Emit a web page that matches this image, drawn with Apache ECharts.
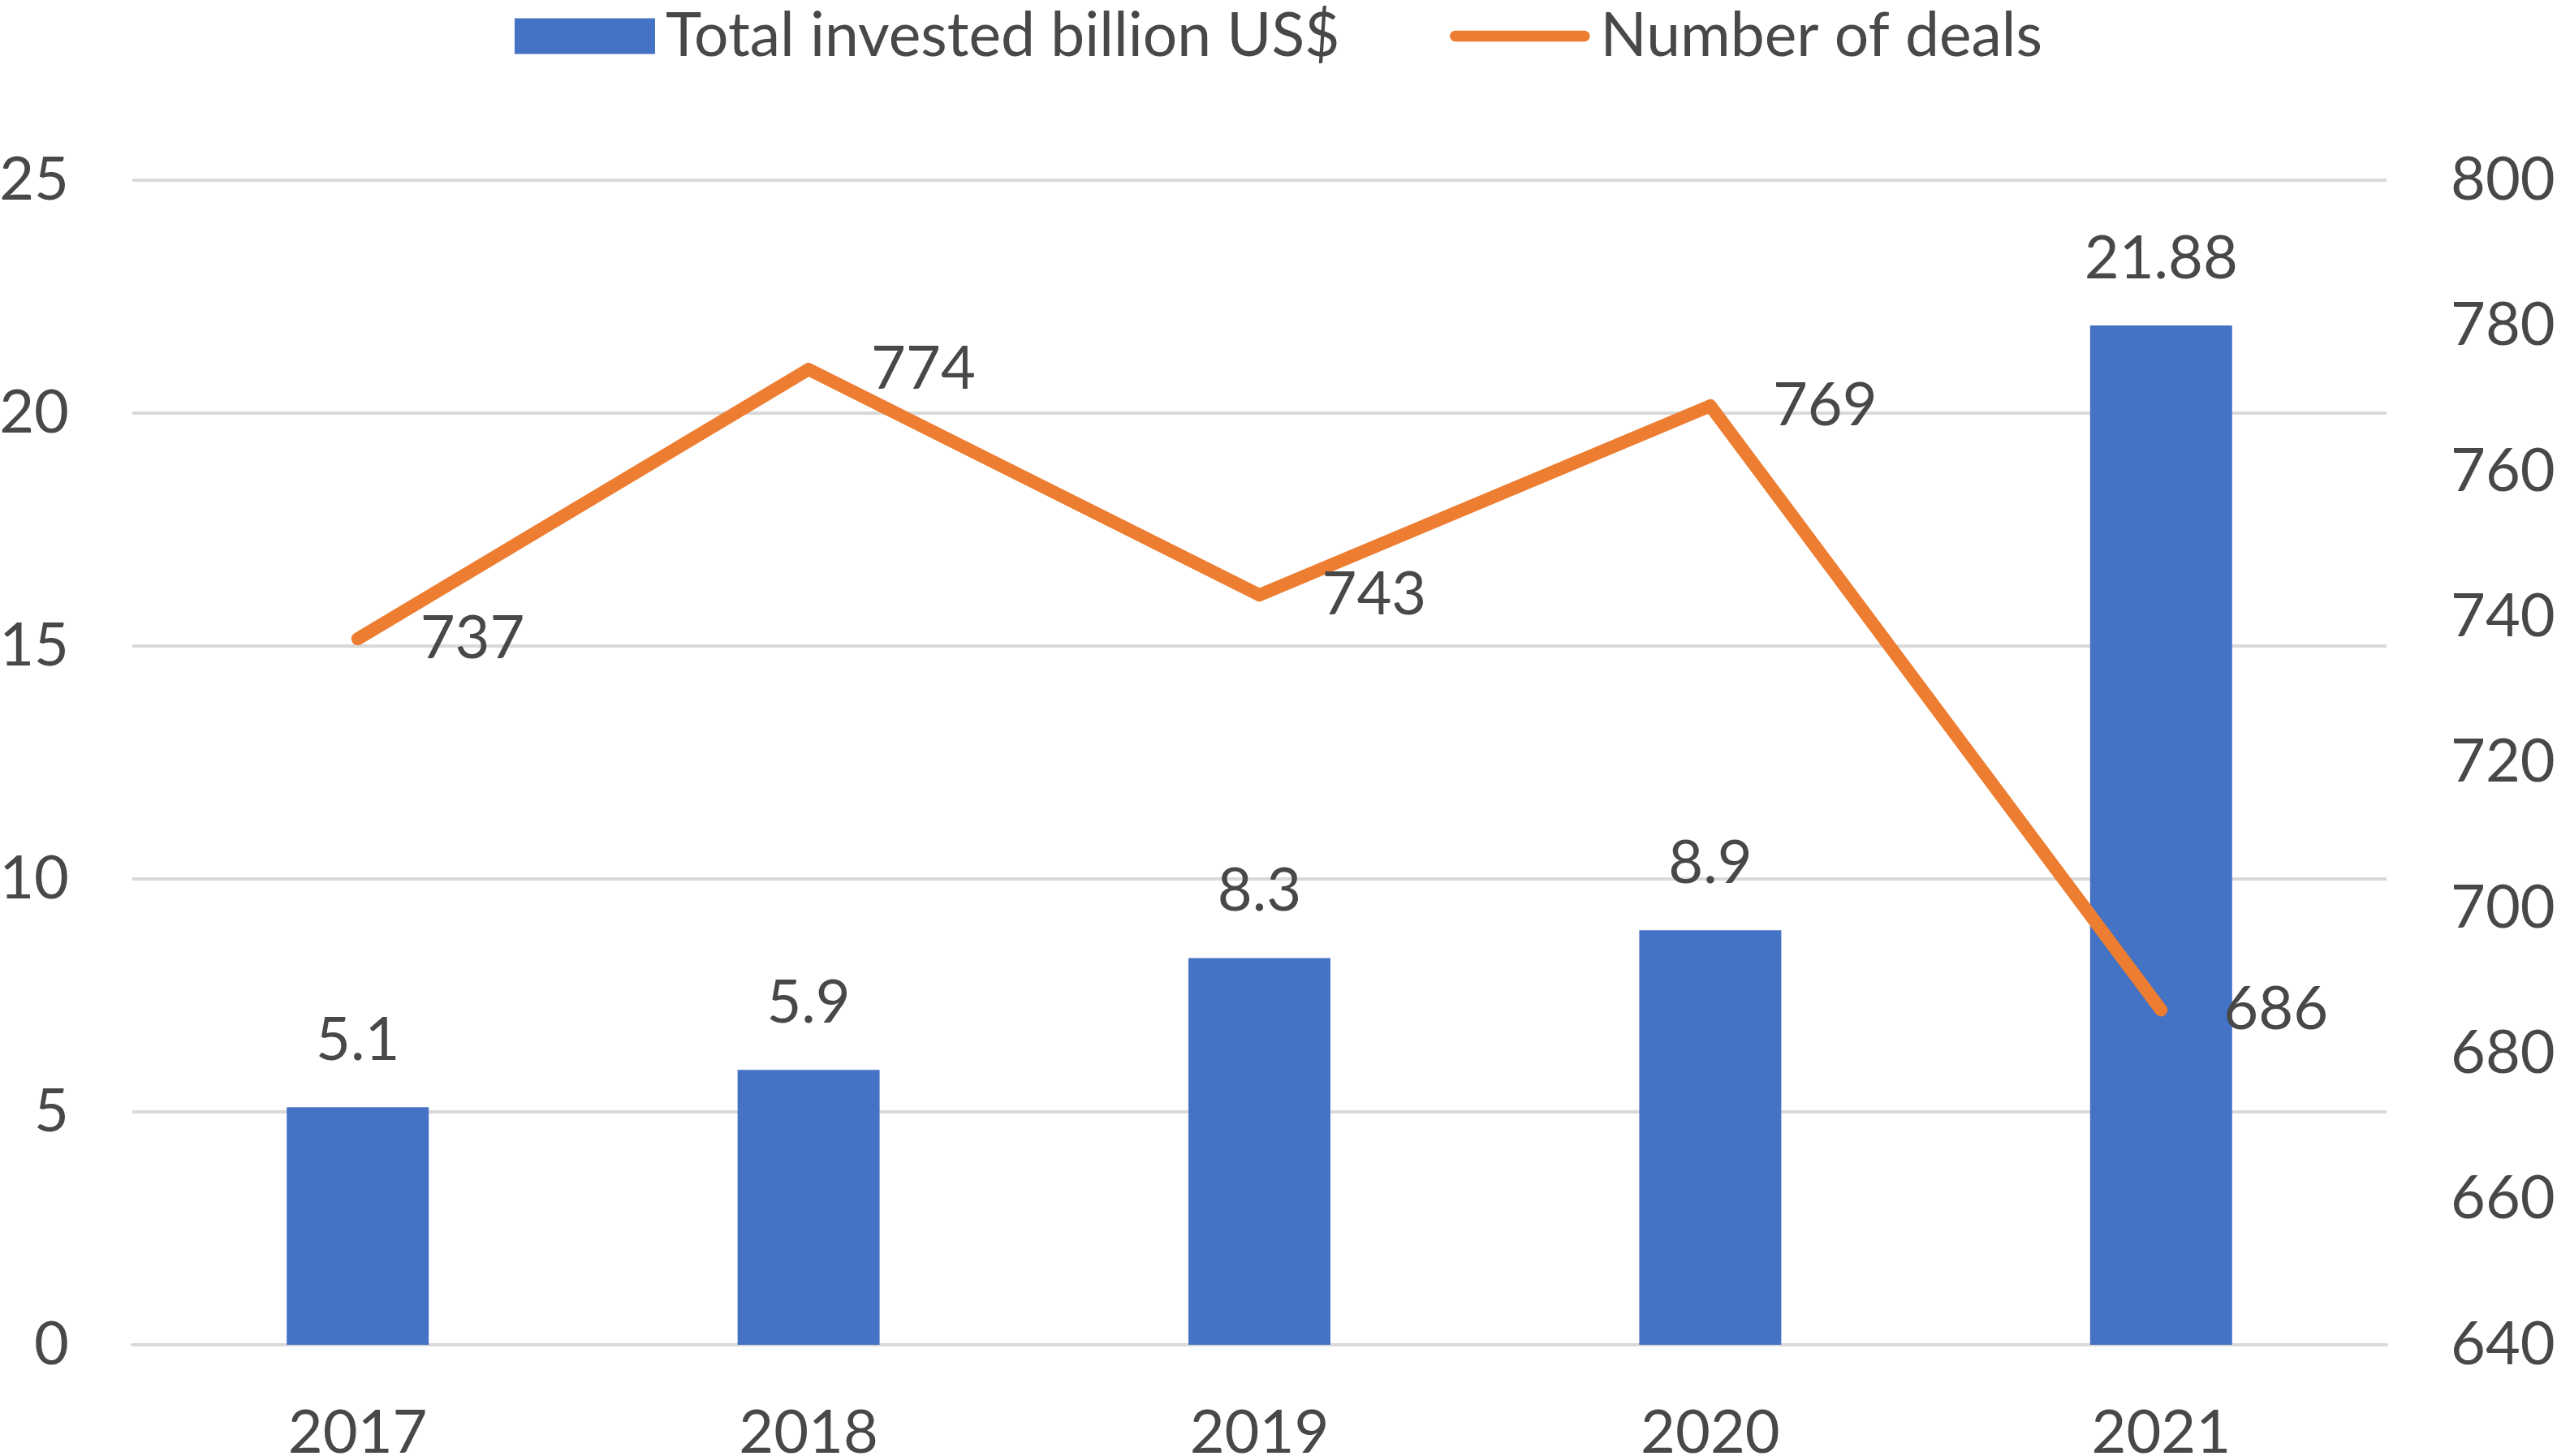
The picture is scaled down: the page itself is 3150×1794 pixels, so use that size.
<!DOCTYPE html>
<html>
<head>
<meta charset="utf-8">
<script src="https://cdn.jsdelivr.net/npm/echarts@6/dist/echarts.min.js"></script>
<style>
html, body { margin: 0; padding: 0; background: #fff; }
#chart { width: 3150px; height: 1794px; }
</style>
</head>
<body>
<div id="chart"></div>
<script>
var years = ['2017', '2018', '2019', '2020', '2021'];
var invested = [5.1, 5.9, 8.3, 8.9, 21.88];
var deals = [737, 774, 743, 769, 686];

var textColor = '#484848';
var fontName = 'Lato';
// thick rounded stroke for the line legend; the two specks keep the box full height
var lineIcon = 'path://M0,0L0.05,0L0.05,0.05Z M0,44L0.05,44L0.05,43.95Z ' +
    'M8,14.5L182,14.5A7.5,7.5 0 0 1 182,29.5L8,29.5A7.5,7.5 0 0 1 8,14.5Z';

var chart = echarts.init(document.getElementById('chart'));
var option = {
    backgroundColor: '#fff',
    animation: false,
    textStyle: { fontFamily: fontName, color: textColor },
    legend: {
        top: 2,
        left: 'center',
        itemWidth: 173,
        itemHeight: 44,
        itemGap: 135,
        textStyle: { fontFamily: fontName, fontSize: 75, color: textColor, padding: [0, 0, 0, 8] },
        data: [
            { name: 'Total invested billion US$', icon: 'rect' },
            { name: 'Number of deals', icon: lineIcon, itemStyle: { color: '#ED7D31' } }
        ]
    },
    grid: {
        left: 163,
        right: 210,
        top: 222,
        bottom: 137,
        outerBoundsMode: 'none',
        containLabel: false
    },
    xAxis: {
        type: 'category',
        data: years,
        axisLine: { lineStyle: { color: '#d9d9d9', width: 4 } },
        axisTick: { show: false },
        axisLabel: { fontFamily: fontName, fontSize: 74, color: textColor, margin: 72 }
    },
    yAxis: [
        {
            type: 'value',
            min: 0,
            max: 25,
            interval: 5,
            axisLine: { show: false },
            axisTick: { show: false },
            axisLabel: { fontFamily: fontName, fontSize: 74, color: textColor, margin: 78 },
            splitLine: { lineStyle: { color: '#d9d9d9', width: 4 } }
        },
        {
            type: 'value',
            min: 640,
            max: 800,
            interval: 20,
            axisLine: { show: false },
            axisTick: { show: false },
            axisLabel: { fontFamily: fontName, fontSize: 74, color: textColor, margin: 79 },
            splitLine: { show: false }
        }
    ],
    series: [
        {
            name: 'Total invested billion US$',
            type: 'bar',
            yAxisIndex: 0,
            barWidth: '31.5%',
            itemStyle: { color: '#4472C4' },
            label: {
                show: true,
                position: 'top',
                distance: 45,
                fontFamily: fontName,
                fontSize: 74,
                color: textColor
            },
            data: invested
        },
        {
            name: 'Number of deals',
            type: 'line',
            yAxisIndex: 1,
            symbol: 'circle',
            symbolSize: 2,
            itemStyle: { color: '#ED7D31' },
            lineStyle: { color: '#ED7D31', width: 16, cap: 'round', join: 'round' },
            label: {
                show: true,
                position: 'right',
                distance: 76,
                fontFamily: fontName,
                fontSize: 74,
                color: textColor
            },
            data: deals
        }
    ]
};
chart.setOption(option);
</script>
</body>
</html>
